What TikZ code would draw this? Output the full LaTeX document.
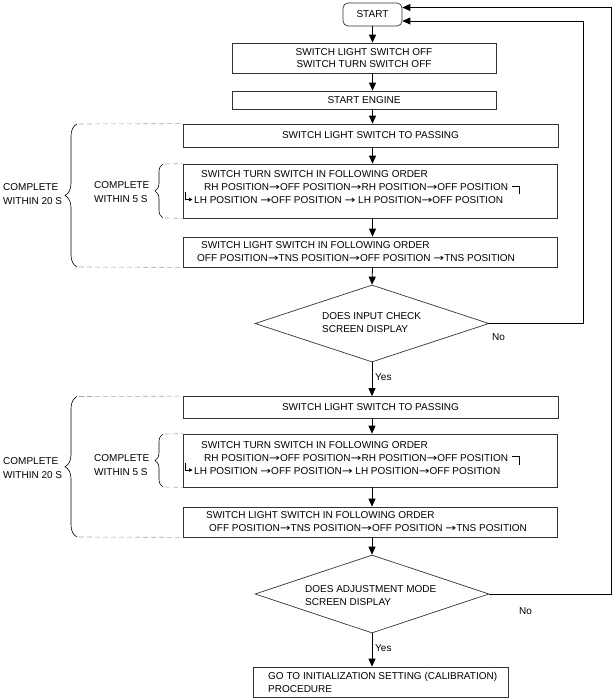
\documentclass[tikz,border=0pt]{standalone}
\usepackage{fontspec}
\usepackage{graphicx}
\setmainfont{Liberation Sans}
\newfontfamily\arrowfont{DejaVu Sans}
\newcommand{\ra}{{\arrowfont\scalebox{1.3}[1]{→}}}
\usetikzlibrary{shapes.geometric,arrows.meta,decorations.pathreplacing}
\begin{document}
\begin{tikzpicture}[x=1pt,y=-1pt,
  every node/.style={font=\fontsize{10}{12.5}\selectfont},
  box/.style={draw=black!80, line width=0.7pt, inner sep=0pt, align=center},
  dia/.style={draw=black!80, line width=0.7pt, shape=diamond, inner sep=0pt},
  txt/.style={inner sep=0pt, anchor=west, align=left},
  lbl/.style={inner sep=0pt, anchor=west},
  arr/.style={line width=0.8pt, -{Triangle[length=8pt,width=7pt]}},
  hook/.style={line width=0.6pt},
  hookarr/.style={line width=0.6pt, -{Triangle[length=3.5pt,width=3.5pt]}},
  dashline/.style={draw=black!35, line width=0.6pt, dash pattern=on 5pt off 3pt},
  bigbrace/.style={line width=0.6pt, decorate, decoration={brace, amplitude=12pt}},
  smallbrace/.style={line width=0.6pt, decorate, decoration={brace, amplitude=8pt}},
  bracetxt/.style={inner sep=0pt, anchor=west, align=left, font=\fontsize{10}{14}\selectfont}
]
\useasboundingbox (0,0) rectangle (615,700);

% ---- top chain
\node[box, rounded corners=5pt, minimum width=59, minimum height=23] (start) at (372.5,14.5) {START};
\node[box, minimum width=264, minimum height=30] (b1) at (364,58) {SWITCH LIGHT SWITCH OFF\\SWITCH TURN SWITCH OFF};
\node[box, minimum width=264, minimum height=18] (b2) at (364,100) {START ENGINE};

% ---- first block
\node[box, minimum width=375, minimum height=23] (b3) at (370.5,135.5) {SWITCH LIGHT SWITCH TO PASSING};
\node[box, minimum width=374, minimum height=54] (b4) at (370,191) {};
\node[txt] (t4a) at (201,174) {SWITCH TURN SWITCH IN FOLLOWING ORDER};
\node[txt] (t4b) at (204,187.5) {RH POSITION\ra OFF POSITION\ra RH POSITION\ra OFF POSITION};
\node[txt] (t4c) at (194,200.5) {LH POSITION \ra OFF POSITION \ra\ LH POSITION\ra OFF POSITION};
\node[box, minimum width=374, minimum height=30] (b5) at (370,252) {};
\node[txt] (t5a) at (201,245) {SWITCH LIGHT SWITCH IN FOLLOWING ORDER};
\node[txt] (t5b) at (197,258) {OFF POSITION\ra TNS POSITION\ra OFF POSITION \ra TNS POSITION};

\node[dia, minimum width=234, minimum height=77] (d1) at (372,323.5) {};
\node[txt] (td1) at (322,322.5) {DOES INPUT CHECK\\SCREEN DISPLAY};
\node[lbl] (no1) at (492,337) {No};
\node[lbl] (yes1) at (375,377) {Yes};

% ---- second block
\node[box, minimum width=375, minimum height=22] (c3) at (370.5,407.5) {SWITCH LIGHT SWITCH TO PASSING};
\node[box, minimum width=374, minimum height=53] (c4) at (370,460.5) {};
\node[txt] (u4a) at (201,445) {SWITCH TURN SWITCH IN FOLLOWING ORDER};
\node[txt] (u4b) at (204,458) {RH POSITION\ra OFF POSITION\ra RH POSITION\ra OFF POSITION};
\node[txt] (u4c) at (194,471) {LH POSITION \ra OFF POSITION\ra\ LH POSITION\ra OFF POSITION};
\node[box, minimum width=374, minimum height=30] (c5) at (370,522) {};
\node[txt] (u5a) at (206,515.5) {SWITCH LIGHT SWITCH IN FOLLOWING ORDER};
\node[txt] (u5b) at (209,528.5) {OFF POSITION\ra TNS POSITION\ra OFF POSITION \ra TNS POSITION};

\node[dia, minimum width=234, minimum height=78] (d2) at (372,594) {};
\node[txt] (td2) at (305,595.5) {DOES ADJUSTMENT MODE\\SCREEN DISPLAY};
\node[lbl] (no2) at (519,611) {No};
\node[lbl] (yes2) at (375,648) {Yes};

\node[box, minimum width=255, minimum height=30] (fin) at (380.5,682) {};
\node[txt] (tfin) at (268,682.5) {GO TO INITIALIZATION SETTING (CALIBRATION)\\PROCEDURE};

% ---- main arrows
\draw[arr] (start.south) -- (start.south |- b1.north);
\draw[arr] (start.south |- b1.south) -- (start.south |- b2.north);
\draw[arr] (start.south |- b2.south) -- (start.south |- b3.north);
\draw[arr] (start.south |- b3.south) -- (start.south |- b4.north);
\draw[arr] (start.south |- b4.south) -- (start.south |- b5.north);
\draw[arr] (start.south |- b5.south) -- (d1.north);
\draw[arr] (d1.south) -- (d1.south |- c3.north);
\draw[arr] (d1.south |- c3.south) -- (d1.south |- c4.north);
\draw[arr] (d1.south |- c4.south) -- (d1.south |- c5.north);
\draw[arr] (d1.south |- c5.south) -- (d2.north);
\draw[arr] (d2.south) -- (d2.south |- fin.north);

% ---- feedback
\draw[arr] (d1.east) -| ([shift={(181,6.5)}]start.east) -- ([shift={(0,6.5)}]start.east);
\draw[arr] (d2.east) -| ([shift={(209,-7)}]start.east) -- ([shift={(0,-7)}]start.east);

% ---- hooks in turn-switch boxes
\draw[hook] ([shift={(4,-1.5)}]t4b.east) -- ++(7,0) -- ++(0,8);
\draw[hookarr] ([shift={(-9,-8)}]t4c.west) -- ++(0,7) -- ++(7.5,0);
\draw[hook] ([shift={(4,-1.5)}]u4b.east) -- ++(7,0) -- ++(0,8);
\draw[hookarr] ([shift={(-9,-8)}]u4c.west) -- ++(0,7) -- ++(7.5,0);

% ---- braces, first block
\coordinate (o1t) at (77,124);
\coordinate (o1b) at (77,267);
\draw[bigbrace] (o1b) -- (o1t);
\draw[dashline] ([xshift=2pt]o1t) -- (b3.north west);
\draw[dashline] ([xshift=2pt]o1b) -- (b5.south west);
\node[bracetxt] (w20a) at (3,194.5) {COMPLETE\\WITHIN 20 S};
\coordinate (i1t) at (163,164);
\coordinate (i1b) at (163,218);
\draw[smallbrace] (i1b) -- (i1t);
\draw[dashline] ([xshift=2pt]i1t) -- (b4.north west);
\draw[dashline] ([xshift=2pt]i1b) -- (b4.south west);
\node[bracetxt] (w5a) at (94,192.5) {COMPLETE\\WITHIN 5 S};

% ---- braces, second block
\coordinate (o2t) at (77,396.5);
\coordinate (o2b) at (77,537);
\draw[bigbrace] (o2b) -- (o2t);
\draw[dashline] ([xshift=2pt]o2t) -- (c3.north west);
\draw[dashline] ([xshift=2pt]o2b) -- (c5.south west);
\node[bracetxt] (w20b) at (3,468) {COMPLETE\\WITHIN 20 S};
\coordinate (i2t) at (163,434);
\coordinate (i2b) at (163,487);
\draw[smallbrace] (i2b) -- (i2t);
\draw[dashline] ([xshift=2pt]i2t) -- (c4.north west);
\draw[dashline] ([xshift=2pt]i2b) -- (c4.south west);
\node[bracetxt] (w5b) at (94,465) {COMPLETE\\WITHIN 5 S};
\end{tikzpicture}
\end{document}
